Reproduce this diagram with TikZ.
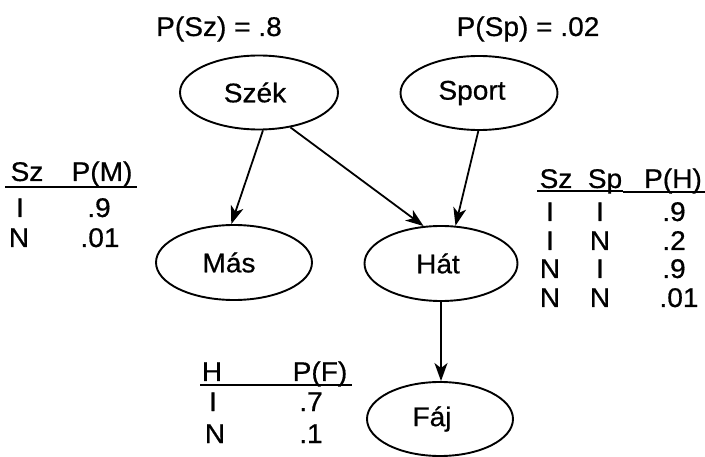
\documentclass[tikz,border=0pt]{standalone}
\usepackage{fontspec}
\setmainfont{Liberation Sans}[FakeStretch=1.04,FakeBold=0.6]
\usetikzlibrary{shapes.geometric,arrows.meta}
\begin{document}
\begin{tikzpicture}[x=1pt,y=-1pt,
  font=\fontsize{27}{31}\selectfont,
  bnode/.style={ellipse, draw, line width=1.9pt, inner sep=0pt},
  edge/.style={line width=1.8pt, -{Stealth[length=18pt,width=13pt,inset=5pt]}},
  txt/.style={anchor=base, inner sep=0pt},
  rule/.style={line width=1.5pt}]
\useasboundingbox (0,0) rectangle (705,457);

% network nodes (labels sit a little left of the ellipse centre)
\node[bnode, minimum width=158pt, minimum height=74pt] (szek)  at (259,92.5) {\hspace*{-8pt}Szék};
\node[bnode, minimum width=157pt, minimum height=74pt] (sport) at (479,93)   {\hspace*{-14pt}Sport};
\node[bnode, minimum width=156pt, minimum height=75pt] (mas)   at (234,262.5) {\hspace*{-10pt}Más};
\node[bnode, minimum width=153pt, minimum height=75pt] (hat)   at (441,263.5) {\hspace*{-6pt}Hát};
\node[bnode, minimum width=146pt, minimum height=74pt] (faj)   at (440,419)  {\hspace*{-16pt}Fáj};

% edges
\draw[edge] (szek.-84) -- (mas.94);
\draw[edge] (szek.-48) -- (hat.115);
\draw[edge] (sport.-91) -- (hat.69);
\draw[edge] (hat.south) -- (hat.south |- faj.north);

% priors
\node[txt] (psz) at (219,36) {P(Sz) = .8};
\node[txt] (psp) at (528,36) {P(Sp) = .02};

% table for Más
\node[txt] (mh1) at (27,181) {Sz};
\node[txt] (mh2) at (102,181) {P(M)};
\draw[rule] (5,187) -- (137,187);
\node[txt] (mr1a) at (20,217) {I};
\node[txt] (mr1b) at (99,217) {.9};
\node[txt] (mr2a) at (19,247) {N};
\node[txt] (mr2b) at (100,247) {.01};

% table for Hát
\node[txt] (hh1) at (556,188) {Sz};
\node[txt] (hh2) at (605,188) {Sp};
\node[txt] (hh3) at (673,188) {P(H)};
\draw[rule] (537,191) -- (623,191);
\draw[rule] (623,192) -- (705,192);
\node[txt] (hr1a) at (550,221) {I};
\node[txt] (hr1b) at (600,221) {I};
\node[txt] (hr1c) at (674,221) {.9};
\node[txt] (hr2a) at (550,250) {I};
\node[txt] (hr2b) at (600,250) {N};
\node[txt] (hr2c) at (674,250) {.2};
\node[txt] (hr3a) at (550,278) {N};
\node[txt] (hr3b) at (600,278) {I};
\node[txt] (hr3c) at (674,278) {.9};
\node[txt] (hr4a) at (550,307) {N};
\node[txt] (hr4b) at (600,307) {N};
\node[txt] (hr4c) at (679,307) {.01};

% table for Fáj
\node[txt] (fh1) at (212,381) {H};
\node[txt] (fh2) at (320,381) {P(F)};
\draw[rule] (200,385) -- (352,385);
\node[txt] (fr1a) at (213,411) {I};
\node[txt] (fr1b) at (311,411) {.7};
\node[txt] (fr2a) at (215,443) {N};
\node[txt] (fr2b) at (311,443) {.1};
\end{tikzpicture}
\end{document}
